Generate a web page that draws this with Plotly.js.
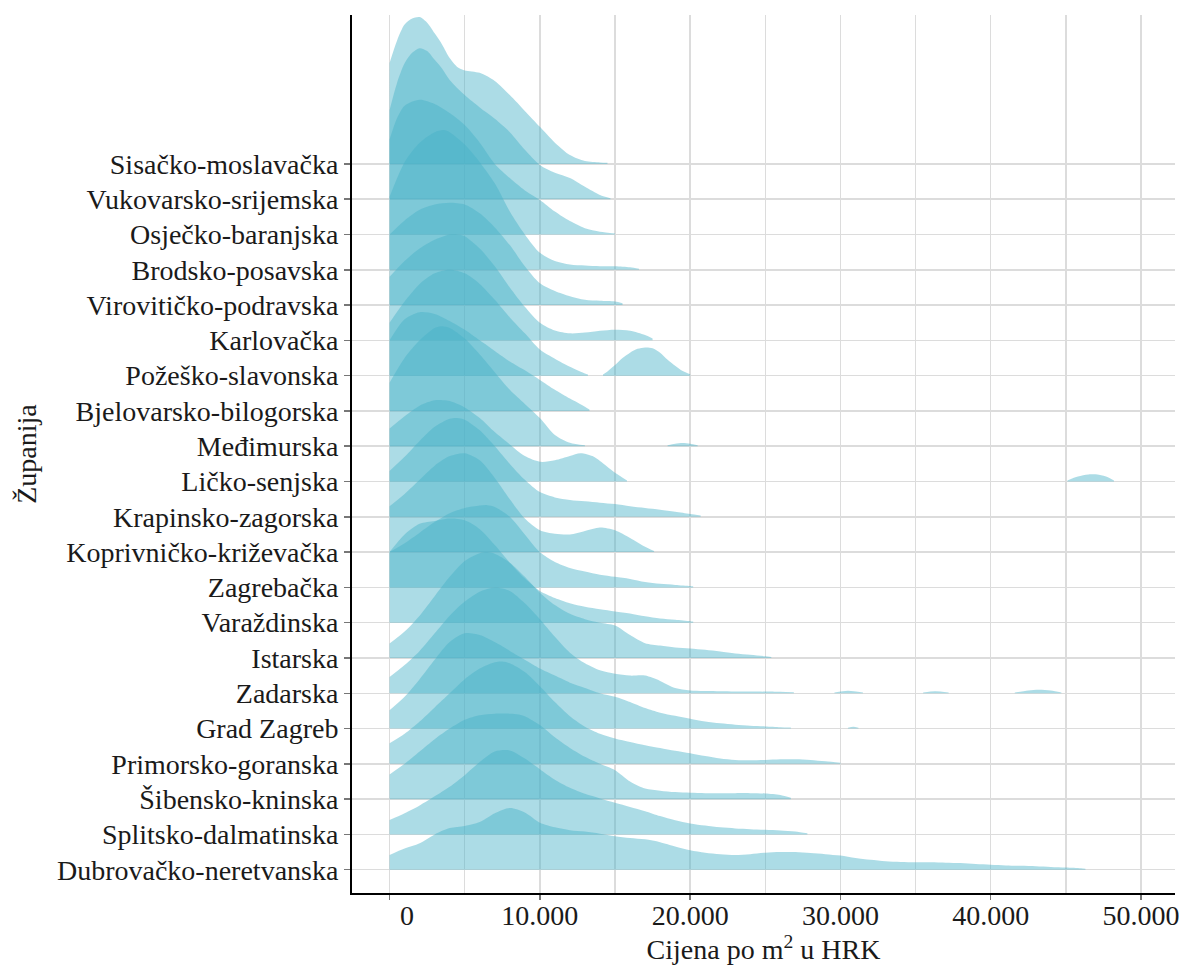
<!DOCTYPE html>
<html>
<head>
<meta charset="utf-8">
<script src="https://cdn.plot.ly/plotly-3.0.1.min.js"></script>
<style>html,body{margin:0;padding:0;background:#fff}#chart{width:1179px;height:970px}</style>
</head>
<body>
<div id="chart"></div>
<script>
// Counties, top row first
const counties = [
  "Sisačko-moslavačka","Vukovarsko-srijemska","Osječko-baranjska","Brodsko-posavska",
  "Virovitičko-podravska","Karlovačka","Požeško-slavonska","Bjelovarsko-bilogorska",
  "Međimurska","Ličko-senjska","Krapinsko-zagorska","Koprivničko-križevačka",
  "Zagrebačka","Varaždinska","Istarska","Zadarska","Grad Zagreb",
  "Primorsko-goranska","Šibensko-kninska","Splitsko-dalmatinska","Dubrovačko-neretvanska"
];
const xTickVals = [0,10000,20000,30000,40000,50000];
const xTickText = ["\u00a0\u00a0\u00a0\u00a0\u00a00","10.000","20.000","30.000","40.000","50.000"];
const xMinorVals = [5000,15000,25000,35000,45000];

// Ridge curves: price (HRK) and scaled density height (in rows)
const sisPrice = [0,500,1000,1500,2000,2500,3000,3500,4000,4500,5000,6000,7000,8000,9000,10000,11000,12000,13000,14000,14500];
const sisDens  = [2.86,3.5,3.95,4.12,4.16,4.0,3.7,3.38,3.0,2.75,2.65,2.58,2.35,1.95,1.5,1.05,0.6,0.25,0.08,0.04,0.03];
const vukPrice = [0,500,1000,1500,2000,2500,3000,3500,4000,5000,6000,7000,8000,9000,10000,11000,12000,13000,14000,14700];
const vukDens  = [2.52,3.3,3.85,4.15,4.28,4.2,3.95,3.7,3.38,2.95,2.6,2.28,1.9,1.4,0.97,0.75,0.6,0.35,0.12,0.03];
const osjPrice = [0,500,1000,2000,3000,4000,5000,6000,7000,8000,9000,10000,11000,12000,13000,14000,15000];
const osjDens  = [2.69,3.3,3.65,3.82,3.7,3.44,3.1,2.6,2.0,1.6,1.25,0.98,0.65,0.38,0.18,0.08,0.03];
const broPrice = [0,1000,2000,3000,3600,4000,5000,6000,7000,8000,9000,10000,11000,12000,13000,14000,15000,16000,16600];
const broDens  = [2.07,3.05,3.6,3.9,3.96,3.9,3.55,3.05,2.45,1.65,1.0,0.48,0.25,0.15,0.12,0.1,0.1,0.07,0.03];
const virPrice = [0,1000,2000,3000,4000,5000,6000,7000,8000,9000,10000,11000,12000,13000,14000,15000,15500];
const virDens  = [2.0,2.4,2.7,2.85,2.9,2.85,2.6,2.2,1.7,1.1,0.62,0.4,0.25,0.15,0.12,0.1,0.05];
const karPrice = [0,1000,2000,3000,4000,4500,5000,6000,7000,8000,9000,10000,11000,12000,13000,14000,15000,16000,17000,17500];
const karDens  = [1.8,2.25,2.6,2.85,3.0,3.0,2.95,2.6,2.1,1.5,0.95,0.5,0.28,0.2,0.22,0.27,0.3,0.27,0.15,0.05];
const pozPrice = [0,1000,2000,3000,4000,5000,6000,7000,8000,9000,10000,11000,12000,13000,13200];
const pozDens  = [1.5,2.1,2.6,2.9,3.0,2.9,2.6,2.15,1.65,1.2,0.74,0.48,0.25,0.06,0.03];
const pozPrice2 = [14200,14500,15000,15500,16000,16500,17000,17500,18000,18500,19000,19500,20000];
const pozDens2  = [0.03,0.12,0.3,0.5,0.65,0.76,0.8,0.78,0.65,0.45,0.28,0.13,0.04];
const bjePrice = [0,1000,2000,3000,4000,5000,6000,7000,8000,9000,10000,11000,12000,13000,13300];
const bjeDens  = [2.0,2.6,2.8,2.75,2.55,2.3,2.0,1.7,1.4,1.15,0.88,0.6,0.35,0.12,0.04];
const medPrice = [0,1000,2000,3000,3500,4000,5000,6000,7000,8000,9000,10000,11000,12000,13000];
const medDens  = [1.8,2.5,3.0,3.35,3.4,3.35,3.05,2.6,2.1,1.6,1.2,0.8,0.32,0.1,0.03];
const medPrice2 = [18500,19000,19500,20000,20500];
const medDens2  = [0.03,0.07,0.09,0.07,0.03];
const likPrice = [0,1000,2000,3000,3600,4000,5000,6000,7000,8000,9000,10000,11000,12000,12700,13500,14000,15000,15800];
const likDens  = [1.5,1.85,2.15,2.3,2.3,2.28,2.1,1.8,1.4,1.05,0.72,0.56,0.6,0.72,0.8,0.72,0.58,0.25,0.03];
const likPrice2 = [45100,45800,46500,47200,47800,48200];
const likDens2  = [0.03,0.14,0.2,0.19,0.12,0.03];
const kraPrice = [0,1000,2000,3000,4000,4500,5000,6000,7000,8000,9000,10000,11000,12000,13000,14000,15000,16000,17000,18000,19000,20000,20700];
const kraDens  = [1.3,1.7,2.15,2.55,2.78,2.8,2.75,2.45,2.0,1.5,1.05,0.7,0.55,0.48,0.44,0.4,0.36,0.3,0.25,0.2,0.14,0.08,0.04];
const kopPrice = [0,1000,2000,3000,4000,5000,6000,7000,8000,9000,10000,11000,12000,13000,14000,15000,16000,17000,17600];
const kopDens  = [1.3,1.65,2.05,2.45,2.72,2.8,2.6,2.1,1.5,0.95,0.62,0.52,0.5,0.6,0.7,0.62,0.4,0.15,0.03];
const zgzPrice = [0,1000,2000,3000,4000,5000,6000,6500,7000,8000,9000,10000,11000,12000,13000,14000,15000,16000,17000,18000,19000,20000,20200];
const zgzDens  = [1.0,1.25,1.55,1.85,2.1,2.25,2.32,2.33,2.28,2.0,1.5,1.0,0.72,0.55,0.45,0.36,0.3,0.24,0.15,0.1,0.07,0.04,0.03];
const varPrice = [0,1000,2000,3000,4000,5000,6000,7000,8000,9000,10000,11000,12000,13000,14000,15000,16000,17000,18000,19000,20000,20200];
const varDens  = [2.0,2.5,2.8,2.88,2.95,2.9,2.65,2.2,1.7,1.25,0.9,0.7,0.55,0.45,0.38,0.32,0.26,0.18,0.12,0.08,0.04,0.03];
const istPrice = [0,1000,2000,3000,4000,5000,6000,6500,7000,8000,9000,10000,11000,12000,13000,14000,15000,16000,17000,18000,19000,20000,21000,22000,23000,24000,25000,25400];
const istDens  = [0.41,0.75,1.2,1.75,2.3,2.75,2.97,3.0,2.95,2.7,2.3,1.85,1.5,1.25,1.1,1.0,0.92,0.65,0.42,0.35,0.3,0.27,0.23,0.18,0.13,0.09,0.05,0.03];
const zadPrice = [0,1000,2000,3000,4000,5000,6000,7000,8000,9000,10000,11000,12000,13000,14000,15000,16000,17000,18000,19000,20000,22000,24000,26000,26900];
const zadDens  = [0.46,0.8,1.2,1.7,2.2,2.6,2.88,3.0,2.9,2.55,2.1,1.6,1.15,0.85,0.65,0.55,0.5,0.5,0.35,0.15,0.08,0.06,0.05,0.04,0.03];
const zadPrice2 = [29600,30500,31500];
const zadDens2  = [0.02,0.07,0.02];
const zadPrice3 = [35500,36300,37200];
const zadDens3  = [0.02,0.06,0.02];
const zadPrice4 = [41600,42500,43200,44000,44700];
const zadDens4  = [0.02,0.08,0.1,0.08,0.02];
const gzgPrice = [0,1000,2000,3000,4000,5000,6000,7000,8000,9000,10000,11000,12000,13000,14000,15000,16000,17000,18000,19000,20000,21000,22000,23000,24000,25000,26000,26700];
const gzgDens  = [0.52,0.9,1.4,1.95,2.45,2.7,2.65,2.45,2.2,1.95,1.7,1.5,1.3,1.15,1.0,0.9,0.75,0.58,0.45,0.36,0.28,0.2,0.15,0.11,0.08,0.06,0.04,0.03];
const gzgPrice2 = [30500,30850,31200];
const gzgDens2  = [0.02,0.05,0.02];
const priPrice = [0,1000,2000,3000,4000,5000,6000,7000,7500,8000,9000,10000,11000,12000,13000,14000,15000,16000,17000,18000,19000,20000,21000,22000,23000,24000,25000,26000,27000,28000,29000,30000];
const priDens  = [0.58,0.85,1.2,1.6,2.0,2.4,2.7,2.88,2.9,2.85,2.6,2.2,1.75,1.35,1.05,0.85,0.72,0.62,0.53,0.45,0.37,0.3,0.22,0.15,0.11,0.1,0.11,0.13,0.13,0.11,0.07,0.03];
const sibPrice = [0,1000,2000,3000,4000,5000,6000,7000,8000,8600,9000,10000,11000,12000,13000,14000,15000,16000,17000,18000,19000,20000,21000,22000,23000,24000,25000,26000,26700];
const sibDens  = [0.7,1.0,1.35,1.7,2.0,2.25,2.38,2.42,2.42,2.4,2.35,2.1,1.75,1.45,1.2,1.0,0.82,0.5,0.3,0.24,0.2,0.18,0.17,0.17,0.17,0.17,0.16,0.12,0.04];
const splPrice = [0,1000,2000,3000,4000,5000,6000,7000,8000,9000,10000,11000,12000,13000,14000,15000,16000,17000,18000,19000,20000,21000,22000,23000,24000,25000,26000,27000,27800];
const splDens  = [0.41,0.6,0.82,1.08,1.35,1.68,2.05,2.35,2.38,2.15,1.85,1.55,1.32,1.15,1.02,0.9,0.78,0.66,0.52,0.4,0.31,0.25,0.2,0.17,0.15,0.13,0.11,0.08,0.03];
const dubPrice = [0,1000,2000,3000,4000,5000,6000,7000,8000,9000,10000,11000,12000,13000,14000,15000,16000,17000,18000,19000,20000,21000,22000,23000,24000,25000,26000,27000,28000,29000,30000,31000,32000,33000,34000,35000,36000,37000,38000,39000,40000,41000,42000,43000,44000,45000,46000,46300];
const dubDens  = [0.42,0.6,0.75,1.0,1.18,1.24,1.35,1.6,1.75,1.62,1.33,1.2,1.12,1.08,1.02,0.95,0.9,0.86,0.78,0.66,0.55,0.48,0.44,0.42,0.44,0.48,0.5,0.5,0.47,0.44,0.4,0.33,0.28,0.24,0.22,0.21,0.21,0.2,0.19,0.16,0.14,0.12,0.11,0.1,0.08,0.06,0.04,0.03];

// Segments: [row index (0 = top), price array, density array]
const segments = [
  [0,sisPrice,sisDens],[1,vukPrice,vukDens],[2,osjPrice,osjDens],[3,broPrice,broDens],
  [4,virPrice,virDens],[5,karPrice,karDens],[6,pozPrice,pozDens],[6,pozPrice2,pozDens2],
  [7,bjePrice,bjeDens],[8,medPrice,medDens],[8,medPrice2,medDens2],
  [9,likPrice,likDens],[9,likPrice2,likDens2],[10,kraPrice,kraDens],[11,kopPrice,kopDens],
  [12,zgzPrice,zgzDens],[13,varPrice,varDens],[14,istPrice,istDens],
  [15,zadPrice,zadDens],[15,zadPrice2,zadDens2],[15,zadPrice3,zadDens3],[15,zadPrice4,zadDens4],
  [16,gzgPrice,gzgDens],[16,gzgPrice2,gzgDens2],[17,priPrice,priDens],
  [18,sibPrice,sibDens],[19,splPrice,splDens],[20,dubPrice,dubDens]
];

const nRows = counties.length;
const fillCol = "rgba(72,178,200,0.45)";
const traces = [];
segments.forEach(([row, px, dens]) => {
  const base = nRows - 1 - row;
  traces.push({
    x: [px[0], px[px.length-1]], y: [base, base],
    mode: "lines", line: {width: 0, color: "rgba(0,0,0,0)"},
    hoverinfo: "skip", showlegend: false
  });
  traces.push({
    x: px, y: dens.map(d => base + d),
    mode: "lines", fill: "tonexty", fillcolor: fillCol,
    line: {width: 0, shape: "spline", smoothing: 0.8, color: "rgba(0,0,0,0)"},
    hoverinfo: "skip", showlegend: false
  });
});

const gridCol = "#dcdcdc";
const layout = {
  width: 1179, height: 970,
  margin: {l: 352, r: 4, t: 15, b: 77},
  paper_bgcolor: "#ffffff", plot_bgcolor: "#ffffff",
  font: {family: "Liberation Serif, Times New Roman, serif", size: 28, color: "#1a1a1a"},
  showlegend: false,
  xaxis: {
    range: [-2500, 52260], tickmode: "array", tickvals: xTickVals, ticktext: xTickText,
    showgrid: true, gridcolor: gridCol, gridwidth: 1.5, zeroline: false,
    minor: {tickmode: "array", tickvals: xMinorVals, showgrid: true, gridcolor: gridCol, gridwidth: 1.5, ticks: ""},
    showline: true, linecolor: "#000", linewidth: 2,
    ticks: "outside", ticklen: 5, tickwidth: 1.5, tickcolor: "#777",
    ticklabelstandoff: -9, ticklabeloverflow: "allow",
    title: {text: "Cijena po m<sup>2</sup> u HRK", standoff: 0, font: {size: 28}},
    fixedrange: true
  },
  yaxis: {
    range: [-0.66, 24.22], tickmode: "array",
    tickvals: counties.map((c, i) => nRows - 1 - i), ticktext: counties,
    showgrid: true, gridcolor: gridCol, gridwidth: 1.5, zeroline: false,
    showline: true, linecolor: "#000", linewidth: 2,
    ticks: "outside", ticklen: 6, tickwidth: 1.5, tickcolor: "#777",
    title: {text: "Županija", standoff: 12, font: {size: 28}},
    fixedrange: true
  }
};

Plotly.newPlot("chart", traces, layout, {displayModeBar: false, staticPlot: true});
</script>
</body>
</html>
